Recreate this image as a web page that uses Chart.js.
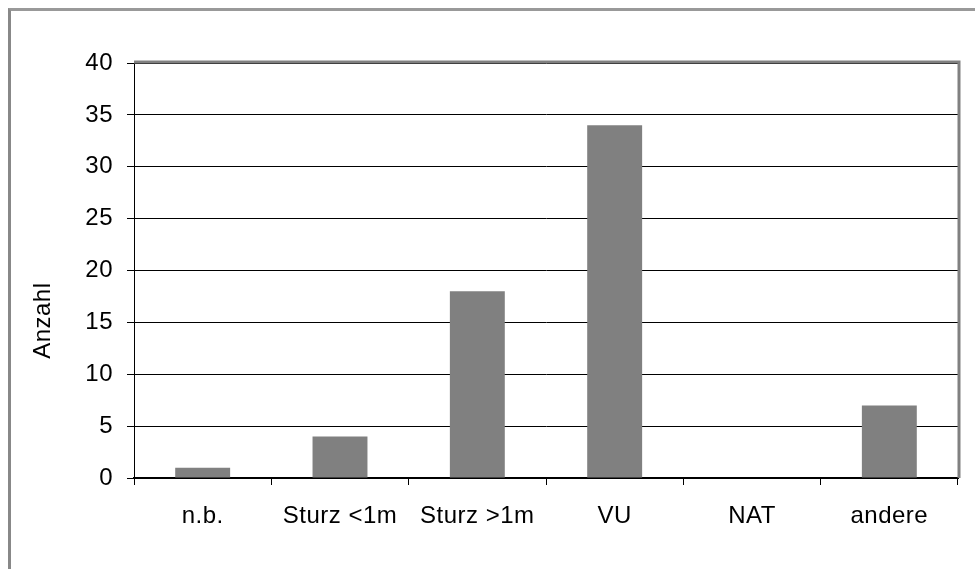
<!DOCTYPE html>
<html>
<head>
<meta charset="utf-8">
<script src="https://cdn.jsdelivr.net/npm/chart.js@4"></script>
<style>
    html, body { margin: 0; padding: 0; background: #fff; overflow: hidden; }
    #wrap { position: relative; width: 975px; height: 569px; }
    #frame { position: absolute; left: 8px; top: 8px; width: 1000px; height: 600px;
             border-left: 3px solid #888; border-top: 3px solid #999; }
    #chart { position: absolute; left: 0; top: 0; }
</style>
</head>
<body>
<div id="wrap">
    <div id="frame"></div>
    <canvas id="chart" width="975" height="569"></canvas>
</div>
<script>
const categories = ["n.b.", "Sturz <1m", "Sturz >1m", "VU", "NAT", "andere"];
const counts = [1, 4, 18, 34, 0, 7];
const yMax = 40;
const yStep = 5;
const yTitle = "Anzahl";

const ctx = document.getElementById("chart");

// Excel-ish spaced text
const spacing = {
    id: "spacing",
    beforeLayout(chart) { chart.ctx.letterSpacing = "0.5px"; },
    beforeDraw(chart) { chart.ctx.letterSpacing = "0.5px"; }
};

// gray plot area border (top + right)
const plotBorder = {
    id: "plotBorder",
    beforeDatasetsDraw(chart) {
        const a = chart.chartArea;
        const c = chart.ctx;
        c.save();
        c.strokeStyle = "#808080";
        c.lineWidth = 3;
        c.beginPath();
        c.moveTo(a.left, a.top - 1);
        c.lineTo(a.right + 1, a.top - 1);
        c.lineTo(a.right + 1, a.bottom);
        c.stroke();
        c.restore();
    }
};

const font = { family: "'Liberation Sans', Arial, sans-serif", size: 24 };

new Chart(ctx, {
    type: "bar",
    data: {
        labels: categories,
        datasets: [{
            data: counts,
            backgroundColor: "#808080",
            borderWidth: 0,
            barPercentage: 0.4,
            categoryPercentage: 1
        }]
    },
    options: {
        responsive: false,
        animation: false,
        devicePixelRatio: 1,
        layout: { padding: { left: 0, top: 63, right: 17, bottom: 0 } },
        plugins: { legend: { display: false }, tooltip: { enabled: false } },
        scales: {
            x: {
                grid: { offset: true, drawOnChartArea: false, color: "#000", tickLength: 7 },
                border: { color: "#000", width: 2 },
                ticks: { color: "#000", font: font, padding: 17, maxRotation: 0 },
                afterFit(scale) { scale.height = 91; }
            },
            y: {
                min: 0,
                max: yMax,
                ticks: { stepSize: yStep, color: "#000", font: font, padding: 14 },
                grid: { color: "#000", lineWidth: 1, tickLength: 7 },
                border: { color: "#000", width: 1 },
                title: {
                    display: true,
                    text: yTitle + "              ",
                    color: "#000",
                    font: font,
                    padding: { top: 29, bottom: 0 }
                },
                afterFit(scale) { scale.width = 134; }
            }
        }
    },
    plugins: [spacing, plotBorder]
});
</script>
</body>
</html>
